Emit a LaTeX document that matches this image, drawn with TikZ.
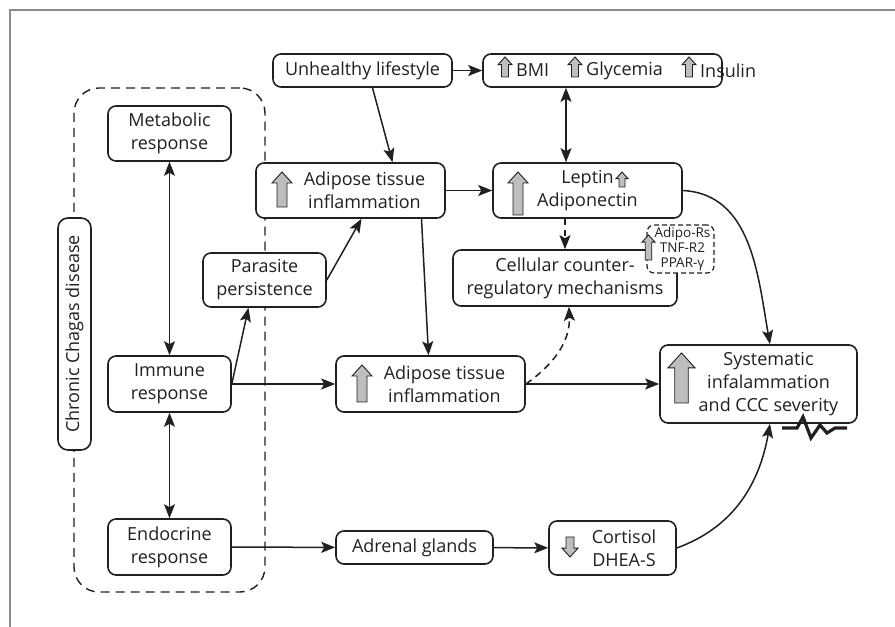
\documentclass[tikz,border=0pt]{standalone}
\usepackage{fontspec}
\setmainfont{Open Sans}
\usepackage{tikz}
\usetikzlibrary{arrows.meta,positioning,calc}

\definecolor{ink}{HTML}{231F20}
\definecolor{arrowgray}{HTML}{BCBEC0}
\definecolor{framegray}{HTML}{8C8C8C}

\tikzset{
  box/.style={draw=ink, line width=1.6pt, rounded corners=8pt, fill=white, align=center,
    inner sep=2pt, text=ink, font=\fontsize{18}{23}\selectfont},
  lbl/.style={align=center, inner sep=0pt, text=ink, font=\fontsize{18}{23}\selectfont},
  smallbox/.style={draw=ink, dash pattern=on 5pt off 3pt, line width=1.2pt, rounded corners=7pt,
    fill=white, align=center, inner sep=0pt, text=ink, font=\fontsize{13.5}{15}\selectfont},
  groupbox/.style={draw=ink, dash pattern=on 9pt off 6pt, line width=1.4pt, rounded corners=25pt},
  arr/.style={draw=ink, line width=1.5pt, -{Stealth[length=14pt,width=11pt,inset=3pt]}},
  dblarr/.style={draw=ink, line width=1.5pt,
    {Stealth[length=14pt,width=11pt,inset=3pt]}-{Stealth[length=14pt,width=11pt,inset=3pt]}},
  grayarr/.style={draw=ink, fill=arrowgray, line width=0.9pt},
  pics/uparr/.style 2 args={code={
    \draw[grayarr] (-#1*0.25,-#2*0.5) -- (-#1*0.25,#2*0.5-#1*0.55) -- (-#1*0.5,#2*0.5-#1*0.55)
      -- (0,#2*0.5) -- (#1*0.5,#2*0.5-#1*0.55) -- (#1*0.25,#2*0.5-#1*0.55) -- (#1*0.25,-#2*0.5) -- cycle;
  }},
}

\begin{document}
\begin{tikzpicture}[x=1pt, y=1pt]
    \useasboundingbox (0,0) rectangle (895,627);
    % frame
    \draw[framegray, line width=1.5pt] (10,0) -- (10,617) -- (895,617);

    % Chronic Chagas disease group
    \node[groupbox, minimum width=191, minimum height=504] (grp) at (169.5,287) {};
    \node[box, rotate=90, minimum width=232, minimum height=33, rounded corners=10pt] (ccd) at (74.5,293) {Chronic Chagas disease};
    \node[box, minimum width=123, minimum height=55] (met) at (169.5,493.5) {Metabolic\\response};
    \node[box, minimum width=123, minimum height=56] (imm) at (169.5,243) {Immune\\response};
    \node[box, minimum width=123, minimum height=56] (endo) at (169.5,80) {Endocrine\\response};

    % upper row
    \node[box, minimum width=123, minimum height=54] (par) at (264.5,347) {Parasite\\persistence};
    \node[box, minimum width=179, minimum height=33] (unh) at (362.5,556.5) {Unhealthy lifestyle};
    \node[box, minimum width=239, minimum height=33] (bmi) at (602.5,556.5) {};
    \node[lbl, anchor=west] (bmit) at (516,556.5) {BMI};
    \node[lbl, anchor=west] (glyt) at (586,556.5) {Glycemia};
    \node[lbl, anchor=west] (inst) at (700,556.5) {Insulin};
    \foreach \x in {505,575,689} {
        \pic at (\x,560) {uparr={14}{20}};
    }

    \node[box, minimum width=189, minimum height=55] (ad1) at (350.5,436.5) {};
    \node[lbl] (ad1t) at (364.5,436.5) {Adipose tissue\\inflammation};
    \pic at (282,437.5) {uparr={20}{35}};

    \node[box, minimum width=189, minimum height=55] (lep) at (587.5,436.5) {Leptin\\Adiponectin};
    \pic at (518,433.5) {uparr={20}{43}};
    \pic at (622,447.5) {uparr={12}{15}};

    % counter-regulation
    \node[box, minimum width=224, minimum height=56] (cel) at (565,349) {Cellular counter-\\regulatory mechanisms};
    \node[smallbox, minimum width=67, minimum height=48] (rec) at (680.5,378) {\hspace*{4pt}Adipo-Rs\\\hspace*{4pt}TNF-R2\\\hspace*{4pt}PPAR-γ};
    \pic at (648.5,379.5) {uparr={13}{25}};

    % middle row
    \node[box, minimum width=189, minimum height=56] (ad2) at (430.5,243) {};
    \node[lbl] (ad2t) at (444.5,243) {Adipose tissue\\inflammation};
    \pic at (362,243.5) {uparr={20}{37}};

    \node[box, minimum width=197, minimum height=78] (sys) at (758.5,243) {};
    \node[lbl] (syst) at (768.5,243) {Systematic\\infalammation\\and CCC severity};
    \pic at (681.5,249) {uparr={27}{50}};
    \draw[ink, line width=3.2pt, line join=miter] (782,199) -- (797,199) -- (803,210) -- (811,189)
        -- (820,202) -- (827,194) -- (835,199) -- (847,199);

    % bottom row
    \node[box, minimum width=157, minimum height=33] (adr) at (414.5,79.5) {Adrenal glands};
    \node[box, minimum width=127, minimum height=54] (cort) at (612.5,79) {};
    \node[lbl] (cortt) at (624,79) {Cortisol\\DHEA-S};
    \pic[yscale=-1] at (570,80) {uparr={16}{20}};

    % connectors
    \draw[dblarr] (met) -- (imm);
    \draw[dblarr] (imm) -- (endo);
    \draw[arr] (endo) -- (adr);
    \draw[arr] (adr) -- (cort);
    \draw[arr] (imm.east) -- (ad2.west);
    \draw[arr] (imm.east) -- (par.240);
    \draw[arr] (par.east) -- ([xshift=11pt]ad1.south);
    \draw[arr] (unh) -- (bmi);
    \draw[arr] ([xshift=10pt]unh.south) -- ([xshift=42pt]ad1.north);
    \draw[arr] (ad1) -- (lep);
    \draw[arr] ([xshift=71pt]ad1.south) -- ([xshift=-2pt]ad2.north);
    \coordinate (bl) at ([xshift=-21.5pt]lep.north);
    \draw[dblarr] (bl) -- (bl |- bmi.south);
    \draw[arr, dash pattern=on 6pt off 5pt] (cel.north |- lep.south) -- (cel.north);
    \draw[arr, dash pattern=on 7pt off 5pt] (ad2.east) to[out=35,in=-88] ([xshift=4pt]cel.south);
    \draw[arr] (ad2) -- (sys);
    \draw[arr] (lep.east) to[out=-3,in=100] ([xshift=11.5pt]sys.north);
    \draw[arr] (cort.east) to[out=20,in=-100] ([xshift=11.5pt]sys.south);
\end{tikzpicture}
\end{document}
